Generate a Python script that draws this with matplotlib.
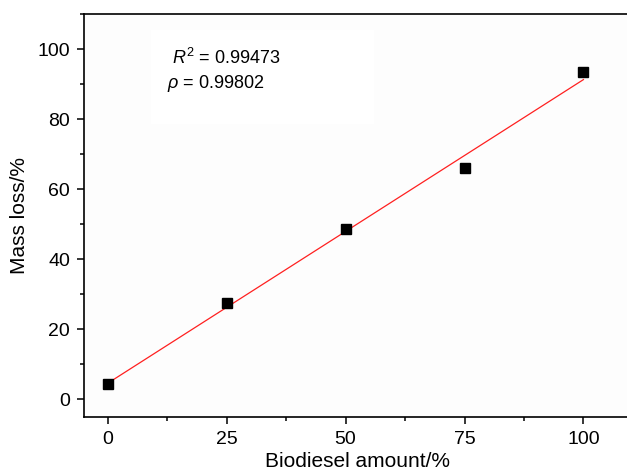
import numpy as np
import matplotlib
matplotlib.use("Agg")
import matplotlib.pyplot as plt
from matplotlib.patches import Rectangle
from matplotlib.ticker import MultipleLocator

# data
biodiesel = [0, 25, 50, 75, 100]
mass_loss = [4.4, 27.4, 48.6, 66.0, 93.4]
x_ticks = [0, 25, 50, 75, 100]
y_ticks = [0, 20, 40, 60, 80, 100]
r2_text = "0.99473"
rho_text = "0.99802"

plt.rcParams['font.family'] = ['Liberation Sans', 'DejaVu Sans']
plt.rcParams['mathtext.fontset'] = 'custom'
plt.rcParams['mathtext.rm'] = 'Liberation Sans'
plt.rcParams['mathtext.it'] = 'Liberation Sans:italic'

fig = plt.figure(figsize=(6.27, 4.74), dpi=100)
ax = fig.add_axes([84 / 627, 57 / 474, (631 - 84) / 627, 403 / 474])

# linear fit through the points
slope, intercept = np.polyfit(biodiesel, mass_loss, 1)
xs = np.array([biodiesel[0], biodiesel[-1]])
ax.plot(xs, slope * xs + intercept, color='#ff2020', linewidth=0.9, zorder=2)
ax.plot(biodiesel, mass_loss, linestyle='none', marker='s', markersize=7,
        color='black', zorder=3)

# faint box behind the annotation
ax.add_patch(Rectangle((9, 78.5), 47, 27, facecolor='white', edgecolor='none',
                       zorder=0))
ax.set_facecolor('#fdfdfd')
ax.text(13.5, 97.5, r"$R^2$ = " + r2_text, fontsize=13, va='center')
ax.text(12.5, 90.3, r"$\rho$ = " + rho_text, fontsize=13, va='center')

ax.set_xlim(-5, 110)
ax.set_ylim(-5, 110)
ax.set_xticks(x_ticks)
ax.set_yticks(y_ticks)
ax.xaxis.set_minor_locator(MultipleLocator(12.5))
ax.yaxis.set_minor_locator(MultipleLocator(10))
ax.tick_params(which='major', direction='out', length=5, width=1.1,
               labelsize=14, pad=5)
ax.tick_params(which='minor', direction='out', length=3, width=1.1)
ax.spines['right'].set_visible(False)
for s in ['left', 'top', 'bottom']:
    ax.spines[s].set_linewidth(1.2)

ax.set_xlabel("Biodiesel amount/%", fontsize=15, labelpad=3)
ax.set_ylabel("Mass loss/%", fontsize=15, labelpad=6)

fig.savefig("out.png", dpi=100)
